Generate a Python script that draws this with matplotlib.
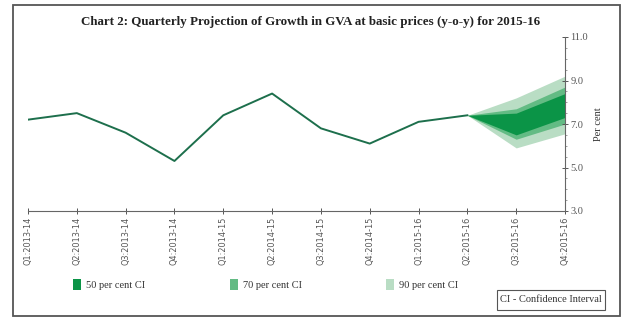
"""Chart 2: Quarterly projection of GVA growth (fan chart) recreation"""
import matplotlib
matplotlib.use("Agg")
import matplotlib.pyplot as plt
from matplotlib.patches import Rectangle
from matplotlib.ticker import MultipleLocator

plt.rcParams["font.family"] = ["Liberation Serif", "DejaVu Serif"]

# --- data ---
quarters = [
    "Q1:2013-14", "Q2:2013-14", "Q3:2013-14", "Q4:2013-14",
    "Q1:2014-15", "Q2:2014-15", "Q3:2014-15", "Q4:2014-15",
    "Q1:2015-16", "Q2:2015-16", "Q3:2015-16", "Q4:2015-16",
]
actual = [7.2, 7.5, 6.6, 5.3, 7.4, 8.4, 6.8, 6.1, 7.1, 7.4]

# fan starts at Q2:2015-16 (index 9)
fan_idx = [9, 10, 11]
ci50_lo = [7.4, 6.5, 7.3]
ci50_hi = [7.4, 7.5, 8.4]
ci70_lo = [7.4, 6.3, 7.0]
ci70_hi = [7.4, 7.7, 8.7]
ci90_lo = [7.4, 5.9, 6.55]
ci90_hi = [7.4, 8.2, 9.2]

C_LINE = "#1d6f4c"
C50 = "#0b9447"
C70 = "#63bb84"
C90 = "#b9ddc4"

W, H = 626, 322
fig = plt.figure(figsize=(W / 100, H / 100), dpi=100, facecolor="white")

# outer frame
fig.patches.append(Rectangle((13 / W, 1 - 316 / H), (620 - 13) / W, (316 - 5) / H,
                             transform=fig.transFigure, fill=False,
                             edgecolor="#555555", lw=1.3))

fig.text(311 / W, 1 - 22 / H,
         "Chart 2: Quarterly Projection of Growth in GVA at basic prices (y-o-y) for 2015-16",
         ha="center", va="center", fontsize=9.4, fontweight="bold", color="#222222")

ax = fig.add_axes([28 / W, 1 - 211 / H, (565 - 28) / W, (211 - 37) / H])
x = list(range(len(quarters)))

ax.fill_between(fan_idx, ci90_lo, ci90_hi, color=C90, lw=0)
ax.fill_between(fan_idx, ci70_lo, ci70_hi, color=C70, lw=0)
ax.fill_between(fan_idx, ci50_lo, ci50_hi, color=C50, lw=0)
ax.plot(x[:len(actual)], actual, color=C_LINE, lw=1.4)

ax.set_xlim(0, len(quarters) - 1)
ax.set_ylim(3, 11)
ax.set_xticks(x)
ax.set_xticklabels(quarters, rotation=90, fontsize=5.9, color="#333333",
                   family=["DejaVu Sans"])
ax.yaxis.tick_right()
ax.yaxis.set_label_position("right")
ax.set_yticks([3, 5, 7, 9, 11])
ax.set_yticklabels([f"{v:.1f}" for v in [3, 5, 7, 9, 11]], fontsize=7.5, color="#333333")
ax.yaxis.set_minor_locator(MultipleLocator(0.5))
ax.set_ylabel("Per cent", fontsize=7.5, color="#333333", labelpad=4)
ax.tick_params(axis="both", colors="#555555", width=0.7, length=4, pad=2, direction="inout")
ax.tick_params(axis="y", which="minor", length=1.5, width=0.5, colors="#777777")
for s in ["left", "top"]:
    ax.spines[s].set_visible(False)
for s in ["right", "bottom"]:
    ax.spines[s].set_color("#666666")
    ax.spines[s].set_linewidth(0.8)

# legend
for px, lab, col in [(77, "50 per cent CI", C50), (234, "70 per cent CI", C70), (390, "90 per cent CI", C90)]:
    fig.patches.append(Rectangle(((px - 4) / W, 1 - 290 / H), 8 / W, 11 / H,
                                 transform=fig.transFigure, facecolor=col, edgecolor="none"))
    fig.text((px + 9) / W, 1 - 285 / H, lab, ha="left", va="center", fontsize=7.5, color="#333333")

fig.patches.append(Rectangle((497 / W, 1 - 310 / H), 108 / W, 20 / H,
                             transform=fig.transFigure, fill=False,
                             edgecolor="#555555", lw=0.8))
fig.text(551 / W, 1 - 300 / H, "CI - Confidence Interval", ha="center", va="center",
         fontsize=7.5, color="#333333")

fig.savefig("out.png", dpi=100, facecolor="white")
